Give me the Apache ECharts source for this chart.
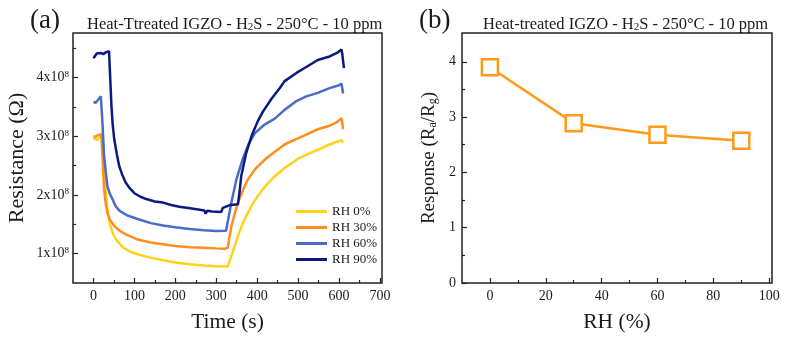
<!DOCTYPE html>
<html>
<head>
<meta charset="utf-8">
<script src="https://cdn.jsdelivr.net/npm/echarts@6/dist/echarts.min.js"></script>
<style>html,body{margin:0;padding:0;background:#fff}#c{width:788px;height:341px}</style>
</head>
<body>
<div id="c"></div>
<script>
// Panel (a): resistance (units of 1e8 Ohm) vs time (s)
const seriesNamesA = ['RH 0%', 'RH 30%', 'RH 60%', 'RH 90%'];
const rh0 = [[0,2.97],[5,2.95],[10,2.94],[15,3.0],[20,3.04],[24,3.03],[27,2.55],[31,1.95],[35,1.70],[40,1.50],[46,1.37],[55,1.24],[70,1.12],[88,1.04],[108,0.99],[129,0.95],[150,0.915],[170,0.886],[200,0.85],[235,0.82],[270,0.80],[300,0.785],[328,0.78],[335,0.92],[345,1.13],[357,1.38],[369,1.58],[385,1.80],[401,1.98],[420,2.15],[443,2.32],[467,2.46],[491,2.57],[500,2.62],[525,2.70],[548,2.77],[577,2.86],[600,2.92],[606,2.94],[610,2.89]];
const rh30 = [[0,3.0],[5,2.99],[10,3.02],[14,3.05],[19,3.03],[22,2.66],[26,2.09],[30,1.85],[34,1.70],[40,1.58],[51,1.47],[64,1.39],[79,1.33],[108,1.24],[140,1.19],[170,1.16],[200,1.13],[235,1.11],[270,1.10],[300,1.09],[322,1.085],[328,1.10],[337,1.47],[345,1.68],[353,1.87],[365,2.08],[377,2.26],[395,2.44],[418,2.60],[440,2.72],[467,2.86],[491,2.94],[520,3.03],[548,3.12],[577,3.18],[595,3.24],[606,3.31],[610,3.12]];
const rh60 = [[0,3.59],[5,3.57],[10,3.61],[18,3.68],[20,3.66],[22,3.22],[26,2.66],[30,2.40],[34,2.15],[40,2.02],[47,1.92],[55,1.80],[64,1.73],[83,1.65],[108,1.59],[140,1.52],[170,1.48],[200,1.45],[235,1.42],[270,1.40],[300,1.385],[324,1.39],[328,1.42],[337,1.87],[349,2.26],[365,2.62],[380,2.88],[394,3.05],[418,3.20],[443,3.30],[467,3.45],[496,3.60],[520,3.68],[548,3.74],[577,3.82],[600,3.87],[606,3.90],[610,3.73]];
const rh90 = [[0,4.33],[4,4.36],[8,4.41],[12,4.38],[18,4.42],[24,4.40],[30,4.43],[38,4.45],[41,4.42],[44,3.51],[47,3.20],[51,2.94],[57,2.70],[63,2.49],[70,2.35],[79,2.21],[88,2.12],[100,2.03],[115,1.97],[129,1.93],[150,1.89],[170,1.87],[190,1.83],[210,1.80],[240,1.77],[271,1.735],[274,1.68],[276,1.66],[278,1.73],[290,1.72],[312,1.71],[316,1.78],[320,1.80],[335,1.83],[353,1.84],[357,2.05],[361,2.32],[373,2.71],[386,3.00],[401,3.25],[414,3.42],[435,3.64],[455,3.82],[467,3.94],[496,4.08],[520,4.18],[548,4.30],[577,4.36],[595,4.42],[606,4.48],[608,4.40],[612,4.16]];
const xTicksA = [0,100,200,300,400,500,600,700];
const xMinorA = [50,150,250,350,450,550,650];
const yTicksA = [1,2,3,4];
const yMinorA = [1.5,2.5,3.5,4.5];

// Panel (b): response vs RH
const rhB = [0, 30, 60, 90];
const respB = [3.9, 2.89, 2.68, 2.57];
const xTicksB = [0,20,40,60,80,100];
const xMinorB = [10,30,50,70,90];
const yTicksB = [0,1,2,3,4];
const yMinorB = [0.5,1.5,2.5,3.5];

const FF = '"Liberation Serif", "Times New Roman", serif';
const TXT = '#1a1a1a';
const colorsA = ['#FFD21A', '#FF8E1C', '#4A6CC6', '#0B1A82'];
const orangeB = '#FF9A1A';

function mainAxis(grid, min, max, ticks, pos, extra) {
  return Object.assign({
    gridIndex: grid, type: 'value', min: min, max: max, position: pos,
    axisLine: {show: false, onZero: false}, splitLine: {show: false},
    axisTick: {inside: true, length: 5, customValues: ticks, lineStyle: {color: '#222', width: 1.2}},
    axisLabel: {customValues: ticks, fontSize: 14, fontFamily: FF, color: TXT, margin: 6},
    nameLocation: 'middle', nameTextStyle: {fontFamily: FF, color: TXT, fontSize: 21.5}
  }, extra || {});
}
function minorAxis(grid, min, max, ticks, pos) {
  return {
    gridIndex: grid, type: 'value', min: min, max: max, position: pos,
    axisLine: {show: false, onZero: false}, splitLine: {show: false}, axisLabel: {show: false},
    axisTick: {inside: true, length: 3, customValues: ticks, lineStyle: {color: '#222', width: 1.2}}
  };
}

const dataA = [rh0, rh30, rh60, rh90];
const series = seriesNamesA.map((n, i) => ({
  name: n, type: 'line', xAxisIndex: 0, yAxisIndex: 0, data: dataA[i],
  symbol: 'none', lineStyle: {color: colorsA[i], width: 2.5}, itemStyle: {color: colorsA[i]}, z: 2 + i
}));
series.push({
  name: 'Response', type: 'line', xAxisIndex: 2, yAxisIndex: 2,
  data: rhB.map((x, i) => [x, respB[i]]),
  symbol: 'rect', symbolSize: 16,
  lineStyle: {color: orangeB, width: 2.5},
  itemStyle: {color: '#fff', borderColor: orangeB, borderWidth: 2.5}
});

const titleRich = {
  n: {fontSize: 16.5, fontFamily: FF, color: TXT, fontWeight: 'normal'},
  s: {fontSize: 11, fontFamily: FF, color: TXT, fontWeight: 'normal', verticalAlign: 'bottom', padding: [6, 0, 0, 0]}
};

const option = {
  animation: false,
  backgroundColor: '#fff',
  title: [
    {text: '(a)', left: 25, top: 2, textStyle: {fontSize: 27, fontWeight: 'normal', fontFamily: FF, color: TXT}},
    {text: '{n|Heat-Ttreated IGZO - H}{s|2}{n|S - 250°C - 10 ppm}', left: 82, top: 11,
     textStyle: {fontWeight: 'normal', rich: titleRich}},
    {text: '(b)', left: 414, top: 2, textStyle: {fontSize: 27, fontWeight: 'normal', fontFamily: FF, color: TXT}},
    {text: '{n|Heat-treated IGZO - H}{s|2}{n|S - 250°C - 10 ppm}', left: 478, top: 11,
     textStyle: {fontWeight: 'normal', rich: titleRich}}
  ],
  legend: {
    data: seriesNamesA.map(n => ({name: n, icon: 'rect'})),
    orient: 'vertical', left: 291, top: 199,
    itemWidth: 31, itemHeight: 3, itemGap: 1,
    textStyle: {fontSize: 13, fontFamily: FF, color: TXT, lineHeight: 15}
  },
  grid: [
    {left: 73, top: 33, width: 309, height: 250, show: true, borderColor: '#222', borderWidth: 1.5},
    {left: 462, top: 33, width: 310, height: 250, show: true, borderColor: '#222', borderWidth: 1.5}
  ],
  xAxis: [
    mainAxis(0, -50, 705, xTicksA, 'bottom', {name: 'Time (s)', nameGap: 28}),
    minorAxis(0, -50, 705, xMinorA, 'bottom'),
    mainAxis(1, -10, 101, xTicksB, 'bottom', {name: 'RH (%)', nameGap: 28}),
    minorAxis(1, -10, 101, xMinorB, 'bottom')
  ],
  yAxis: [
    mainAxis(0, 0.5, 4.76, yTicksA, 'left', {
      name: 'Resistance (Ω)', nameGap: 45,
      nameTextStyle: {fontFamily: FF, color: TXT, fontSize: 22},
      axisLabel: {customValues: yTicksA, margin: 4, formatter: v => '{n|' + v + 'x10}{s|8}',
        rich: {n: {fontSize: 14, fontFamily: FF, color: TXT}, s: {fontSize: 9, fontFamily: FF, color: TXT, verticalAlign: 'top', padding: [0, 0, 6, 0]}}}
    }),
    minorAxis(0, 0.5, 4.76, yMinorA, 'left'),
    mainAxis(1, 0, 4.52, yTicksB, 'left', {
      name: '{n|Response (R}{s|a}{n|/R}{s|g}{n|)}', nameGap: 23,
      nameTextStyle: {rich: {n: {fontSize: 19, fontFamily: FF, color: TXT}, s: {fontSize: 12, fontFamily: FF, color: TXT, verticalAlign: 'bottom', padding: [8, 0, 0, 0]}}}
    }),
    minorAxis(1, 0, 4.52, yMinorB, 'left')
  ],
  series: series
};
const chart = echarts.init(document.getElementById('c'), null, {renderer: 'canvas'});
chart.setOption(option);
</script>
</body>
</html>
